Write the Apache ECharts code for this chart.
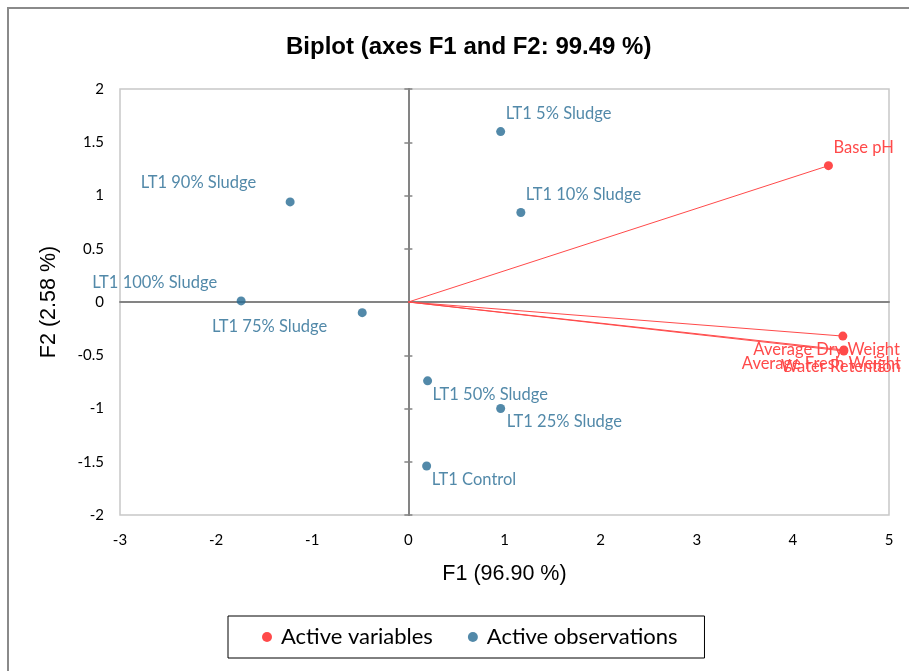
<!DOCTYPE html>
<html>
<head>
<meta charset="utf-8">
<script src="https://cdn.jsdelivr.net/npm/echarts@6/dist/echarts.min.js"></script>
<style>
html,body{margin:0;padding:0;background:#fff;}
#chart{width:909px;height:671px;}
</style>
</head>
<body>
<div id="chart"></div>
<script>
// ---- Data ----
const obsNames = ['LT1 5% Sludge','LT1 10% Sludge','LT1 90% Sludge','LT1 100% Sludge','LT1 75% Sludge','LT1 50% Sludge','LT1 25% Sludge','LT1 Control'];
const obsF1 = [0.96, 1.17, -1.23, -1.74, -0.48, 0.20, 0.96, 0.19];
const obsF2 = [1.60, 0.84, 0.94, 0.01, -0.10, -0.74, -1.00, -1.54];
const varNames = ['Base pH','Average Dry Weight','Average Fresh Weight','Water Retention'];
const varF1 = [4.37, 4.52, 4.53, 4.53];
const varF2 = [1.28, -0.32, -0.45, -0.46];
const titleText = 'Biplot (axes F1 and F2: 99.49 %)';
const xName = 'F1 (96.90 %)';
const yName = 'F2 (2.58 %)';

// ---- Styling / layout (not data) ----
const RED = '#ff4a4a';
const BLUE = '#276b93';
const LBL = 'Lato, "Open Sans", sans-serif';
const ARIAL = '"Liberation Sans", Arial, sans-serif';
const obsLabelLayout = {
  'LT1 5% Sludge':   {align:'left',  offset:[5,-18]},
  'LT1 10% Sludge':  {align:'left',  offset:[5,-18]},
  'LT1 90% Sludge':  {align:'right', offset:[-34,-19]},
  'LT1 100% Sludge': {align:'right', offset:[-24,-18]},
  'LT1 75% Sludge':  {align:'right', offset:[-35,14]},
  'LT1 50% Sludge':  {align:'left',  offset:[5,14]},
  'LT1 25% Sludge':  {align:'left',  offset:[6,13]},
  'LT1 Control':     {align:'left',  offset:[5,14]}
};
const varLabelLayout = {
  'Base pH':              {align:'left',  offset:[5,-18]},
  'Average Dry Weight':   {align:'right', offset:[57,14]},
  'Average Fresh Weight': {align:'right', offset:[57,14]},
  'Water Retention':      {align:'right', offset:[57,16]}
};

const chart = echarts.init(document.getElementById('chart'));

const obsData = obsNames.map((n, i) => {
  const l = obsLabelLayout[n];
  return {
    name: n, value: [obsF1[i], obsF2[i]],
    label: {show:true, formatter:'{b}', position:'inside', align:l.align, verticalAlign:'middle',
            offset:l.offset, color:BLUE, fontSize:16.5, fontFamily:LBL}
  };
});

const varSeries = varNames.map((n, i) => {
  const l = varLabelLayout[n];
  return {
    type:'line', name:'Active variables', xAxisIndex:0, yAxisIndex:0,
    color: RED,
    lineStyle:{color:RED, width:1},
    itemStyle:{color:RED},
    symbol:'circle', symbolSize:9, showSymbol:true,
    animation:false, z:3,
    data:[
      {value:[0,0], symbol:'none'},
      {name:n, value:[varF1[i], varF2[i]],
       label:{show:true, formatter:n, position:'inside', align:l.align, verticalAlign:'middle',
              offset:l.offset, color:RED, fontSize:16.5, fontFamily:LBL}}
    ]
  };
});

const option = {
  animation:false,
  backgroundColor:'#fff',
  title:{
    text:titleText, left:281, top:30,
    textStyle:{fontFamily:ARIAL, fontWeight:'bold', fontSize:24, color:'#000'}
  },
  graphic:[{
    type:'rect', shape:{x:8, y:8, width:1000, height:1000},
    style:{fill:'none', stroke:'#8a8a8a', lineWidth:2}, silent:true, z:-10
  }],
  legend:{
    left:228, top:616,
    padding:[10, 27, 10, 34],
    itemGap:35,
    itemWidth:10, itemHeight:10,
    borderColor:'#000', borderWidth:1,
    textStyle:{fontSize:22, fontFamily:LBL, color:'#000', padding:[0,0,0,4]},
    data:[{name:'Active variables', icon:'circle', itemStyle:{color:RED}},
          {name:'Active observations', icon:'circle', itemStyle:{color:BLUE}}]
  },
  grid:{left:120, top:89, width:769, height:426, show:true, borderColor:'#c8c8c8', borderWidth:1.5, containLabel:false},
  xAxis:[
    {type:'value', min:-3, max:5, interval:1, position:'bottom',
     axisLine:{show:false, onZero:false}, axisTick:{show:false}, splitLine:{show:false},
     axisLabel:{color:'#000', fontSize:15, fontFamily:LBL, margin:18},
     name:xName, nameLocation:'middle', nameGap:48,
     nameTextStyle:{fontFamily:ARIAL, fontSize:21.5, color:'#000'}},
    {type:'value', min:-3, max:5, interval:1,
     axisLine:{show:true, onZero:true, onZeroAxisIndex:0, lineStyle:{color:'#848484', width:2}},
     axisTick:{show:false}, axisLabel:{show:false}, splitLine:{show:false}}
  ],
  yAxis:[
    {type:'value', min:-2, max:2, interval:0.5, position:'left',
     axisLine:{show:false, onZero:false}, axisTick:{show:false}, splitLine:{show:false},
     axisLabel:{color:'#000', fontSize:15, fontFamily:LBL, margin:16},
     name:yName, nameLocation:'middle', nameGap:60, nameRotate:90,
     nameTextStyle:{fontFamily:ARIAL, fontSize:21.5, color:'#000'}},
    {type:'value', min:-2, max:2, interval:0.5, position:'left',
     axisLine:{show:true, onZero:true, onZeroAxisIndex:0, lineStyle:{color:'#848484', width:2}},
     axisTick:{show:true, inside:false, length:4, lineStyle:{color:'#848484', width:1.5}},
     axisLabel:{show:false}, splitLine:{show:false}},
    {type:'value', min:-2, max:2, interval:0.5, position:'left',
     axisLine:{show:true, onZero:true, onZeroAxisIndex:0, lineStyle:{color:'#848484', width:2}},
     axisTick:{show:true, inside:true, length:4, lineStyle:{color:'#848484', width:1.5}},
     axisLabel:{show:false}, splitLine:{show:false}}
  ],
  series:[
    ...varSeries,
    {type:'scatter', name:'Active observations', xAxisIndex:0, yAxisIndex:0,
     symbol:'circle', symbolSize:9, itemStyle:{color:BLUE}, z:4,
     data:obsData}
  ]
};
chart.setOption(option);
</script>
</body>
</html>
